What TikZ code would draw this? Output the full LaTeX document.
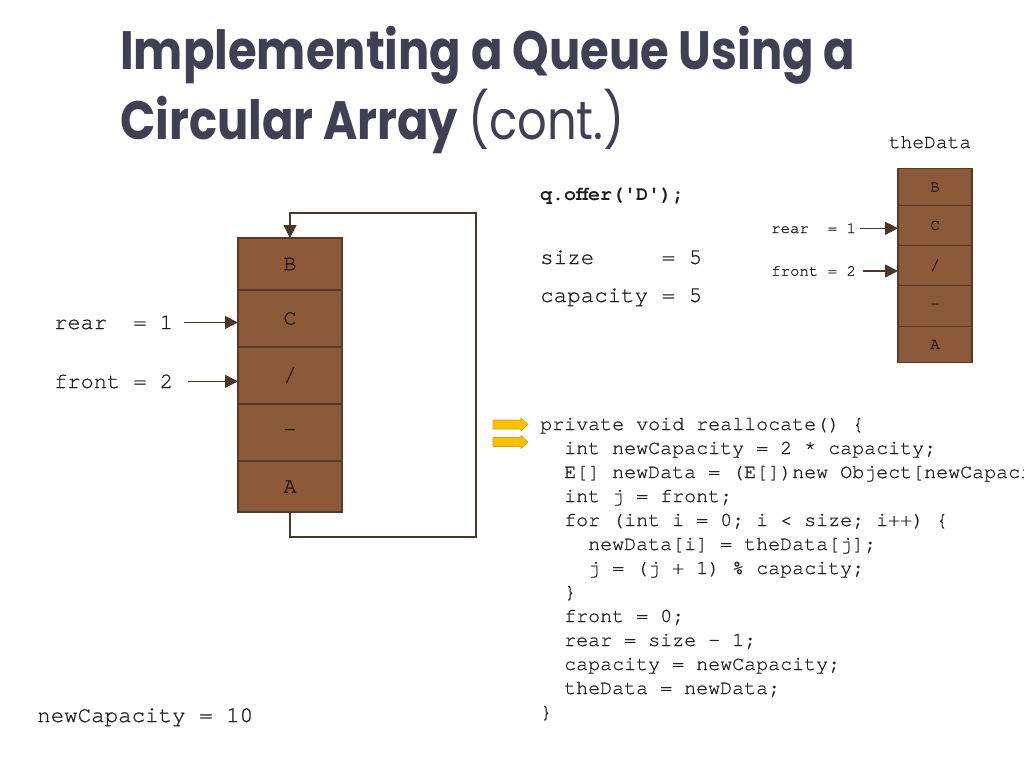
\documentclass[tikz,border=0pt]{standalone}
\usepackage{fontspec}
\setmonofont{texgyrecursor}[Extension=.otf,UprightFont=*-regular,BoldFont=*-bold,UprightFeatures={FakeBold=0.7}]
\newfontfamily\titlefont[FakeStretch=0.86]{Poppins}
\usetikzlibrary{arrows.meta,positioning}
\definecolor{cellfill}{RGB}{140,90,58}
\definecolor{celldraw}{RGB}{85,58,40}
\definecolor{celltext}{RGB}{35,22,15}
\definecolor{ptrcol}{RGB}{74,55,40}
\definecolor{titlecol}{RGB}{64,64,84}
\definecolor{codecol}{RGB}{30,30,30}
\definecolor{hlfill}{RGB}{255,192,0}
\definecolor{hldraw}{RGB}{215,160,20}
\newcommand{\mono}[1]{\ttfamily\fontsize{#1}{#1}\selectfont}

\begin{document}
\begin{tikzpicture}[x=1pt,y=-1pt,
	cell/.style={draw=celldraw,fill=cellfill,line width=1.4pt,outer sep=0pt,inner sep=0pt,text=celltext},
	bigcell/.style={cell,minimum width=104pt,font=\mono{22}},
	smallcell/.style={cell,minimum width=74pt,font=\mono{16}},
	ptr/.style={draw=ptrcol,line width=1.4pt,-{Triangle[length=13pt,width=13pt]}},
	txt/.style={anchor=base west,inner sep=0pt,text=codecol}]
	\useasboundingbox (0,0) rectangle (1024,768);

	% title
	\node[anchor=base west,inner sep=0pt,text=titlecol,font=\titlefont\bfseries\fontsize{54}{54}\selectfont] (title1) at (120,69) {Implementing a Queue Using a};
	\node[anchor=base west,inner sep=0pt,text=titlecol,font=\titlefont\bfseries\fontsize{54}{54}\selectfont] (title2) at (120,139) {Circular Array {\mdseries(cont.)}};

	% big circular array
	\node[bigcell,minimum height=52pt] (bigB) at (290,264) {B};
	\node[bigcell,minimum height=57pt,below=0pt of bigB] (bigC) {C};
	\node[bigcell,minimum height=57pt,below=0pt of bigC] (bigS) {/};
	\node[bigcell,minimum height=57pt,below=0pt of bigS] (bigD) {-};
	\node[bigcell,minimum height=51pt,below=0pt of bigD] (bigA) {A};

	\node[txt,font=\mono{22}] (bigRear) at (54,329) {rear\ \ = 1};
	\node[txt,font=\mono{22}] (bigFront) at (54,388) {front = 2};
	\draw[ptr] ([xshift=11pt]bigRear.east) -- (bigRear.east -| bigC.west);
	\draw[ptr] ([xshift=15pt]bigFront.east) -- (bigFront.east -| bigS.west);

	\coordinate (loopLo) at (476,537);
	\coordinate (loopHi) at (476,213);
	\draw[ptr] (bigA.south) |- (loopLo) -- (loopHi) -| (bigB.north);

	% small array
	\node[smallcell,minimum height=37pt] (smB) at (935,187) {B};
	\node[smallcell,minimum height=40pt,below=0pt of smB] (smC) {C};
	\node[smallcell,minimum height=40pt,below=0pt of smC] (smS) {/};
	\node[smallcell,minimum height=41pt,below=0pt of smS] (smD) {-};
	\node[smallcell,minimum height=36pt,below=0pt of smD] (smA) {A};
	\node[anchor=base,inner sep=0pt,text=codecol,font=\mono{19.6}] (dataName) at (930,148) {theData};

	\node[txt,font=\mono{15.7}] (smRear) at (771,233) {rear\ \ = 1};
	\node[txt,font=\mono{15.7}] (smFront) at (771,275.7) {front = 2};
	\draw[ptr] ([xshift=4pt]smRear.east) -- (smRear.east -| smC.west);
	\draw[ptr] ([xshift=7pt]smFront.east) -- (smFront.east -| smS.west);

	% state
	\node[txt,font=\mono{20}\bfseries] (offer) at (540,200) {q.offer('D');};
	\node[txt,font=\mono{22.5}] (size) at (540,264) {size\ \ \ \ \ = 5};
	\node[txt,font=\mono{22.5}] (cap) at (540,302) {capacity = 5};
	\node[txt,font=\mono{22.5}] (newCap) at (37,722) {newCapacity = 10};

	% code
	\foreach \y in {424.5,442}
		\filldraw[fill=hlfill,draw=hldraw,line width=0.6pt] (493,\y-4.5) -- (521,\y-4.5) -- (521,\y-6.5) -- (528,\y) -- (521,\y+6.5) -- (521,\y+4.5) -- (493,\y+4.5) -- cycle;
	\node[txt,font=\mono{20}] (code1) at (540,430) {private void reallocate() \{};
	\node[txt,font=\mono{20}] (code2) at (564,454) {int newCapacity = 2 * capacity;};
	\node[txt,font=\mono{20}] (code3) at (564,478) {E[] newData = (E[])new Object[newCapacity];};
	\node[txt,font=\mono{20}] (code4) at (564,502) {int j = front;};
	\node[txt,font=\mono{20}] (code5) at (564,526) {for (int i = 0; i < size; i++) \{};
	\node[txt,font=\mono{20}] (code6) at (588,550) {newData[i] = theData[j];};
	\node[txt,font=\mono{20}] (code7) at (588,574) {j = (j + 1) \% capacity;};
	\node[txt,font=\mono{20}] (code8) at (564,598) {\}};
	\node[txt,font=\mono{20}] (code9) at (564,622) {front = 0;};
	\node[txt,font=\mono{20}] (code10) at (564,646) {rear = size - 1;};
	\node[txt,font=\mono{20}] (code11) at (564,670) {capacity = newCapacity;};
	\node[txt,font=\mono{20}] (code12) at (564,694) {theData = newData;};
	\node[txt,font=\mono{20}] (code13) at (540,718) {\}};
\end{tikzpicture}
\end{document}
